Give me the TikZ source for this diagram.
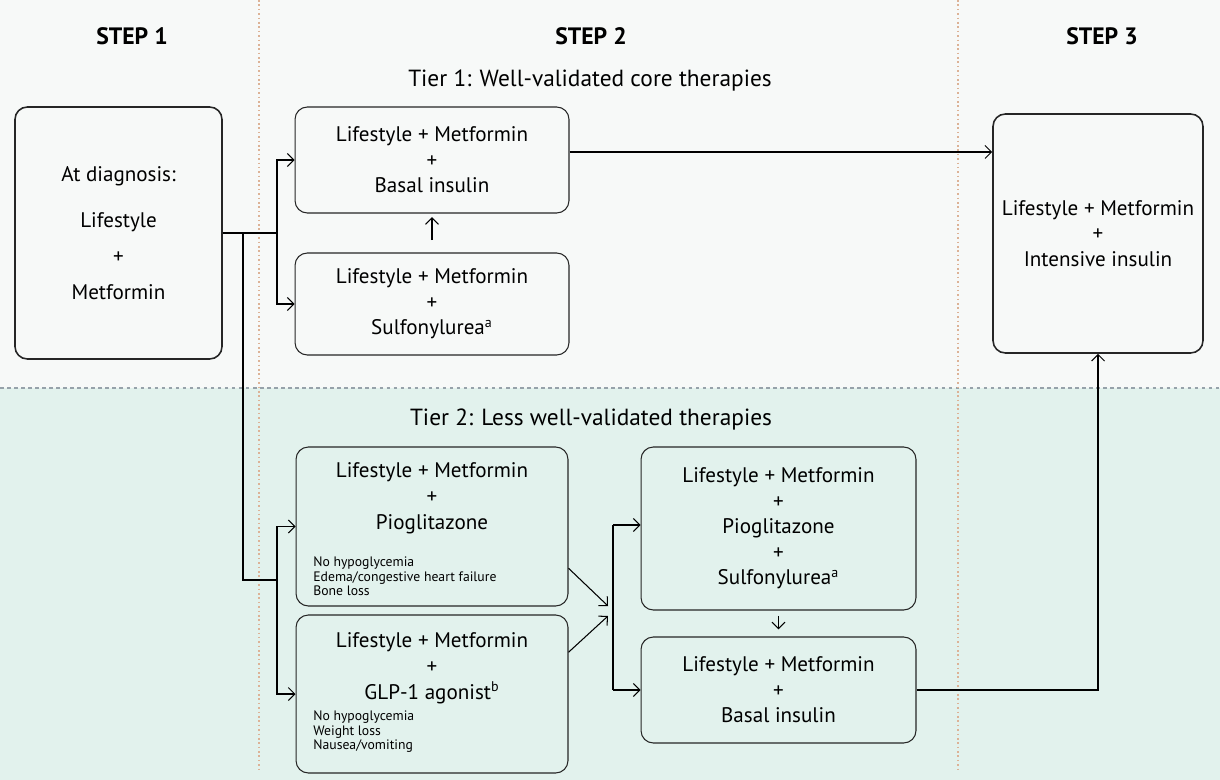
\documentclass[tikz,border=0pt]{standalone}
\usepackage{fontspec}
\setmainfont{PT Sans}
\usetikzlibrary{calc,positioning,arrows.meta}
\definecolor{tieronebg}{RGB}{247,249,248}
\definecolor{tiertwobg}{RGB}{226,242,237}
\definecolor{stepsep}{RGB}{220,178,150}
\definecolor{tiersep}{RGB}{150,162,170}

\begin{document}
\begin{tikzpicture}[x=0.02cm,y=-0.02cm,>={Straight Barb[length=1.3mm,width=2.6mm]},
  box/.style={draw=black!85,rounded corners=7pt,line width=0.6pt,align=center,inner sep=0pt,
    font=\fontsize{12}{14.5}\selectfont},
  bigbox/.style={box,line width=0.9pt},
  boxtext/.style={align=center,inner sep=0pt,font=\fontsize{12}{14.8}\selectfont},
  note/.style={align=left,inner sep=0pt,font=\fontsize{7.8}{8.5}\selectfont},
  steplabel/.style={anchor=base,font=\fontsize{13.5}{15}\selectfont\bfseries},
  tierlabel/.style={anchor=base,font=\fontsize{13.3}{15}\selectfont},
  link/.style={line width=0.6pt}]
\useasboundingbox (0,0) rectangle (1220,780);

% Draw tier backgrounds.
\fill[tieronebg] (0,0) rectangle (1220,388);
\fill[tiertwobg] (0,388) rectangle (1220,780);
\draw[tiersep,line width=0.6pt,dash pattern=on 2pt off 2pt] (0,388) -- (1220,388);

% Draw step separators.
\foreach \X in {259,958}
\draw[stepsep,line width=0.9pt,dash pattern=on 0.9pt off 1.6pt] (\X,0) -- (\X,772);

% Draw step and tier headings.
\node[steplabel] (stepone) at (132,45) {STEP 1};
\node[steplabel] (steptwo) at (591,45) {STEP 2};
\node[steplabel] (stepthree) at (1102,45) {STEP 3};
\node[tierlabel] (tierone) at (590,87) {Tier 1: Well-validated core therapies};
\node[tierlabel] (tiertwo) at (591,425) {Tier 2: Less well-validated therapies};

% Draw step 1 and tier 1 boxes.
\node[bigbox,minimum width=4.14cm,minimum height=5.04cm] (diag) at (118.5,233)
  {At diagnosis:\\[12pt]Lifestyle\\[6pt]+\\[6pt]Metformin};
\node[box,minimum width=5.48cm,minimum height=2.12cm] (basal) at (432,160)
  {Lifestyle + Metformin\\+\\Basal insulin};
\node[box,minimum width=5.48cm,minimum height=2.04cm] (sulfo) at (432,304)
  {Lifestyle + Metformin\\+\\Sulfonylurea\textsuperscript{a}};
\node[bigbox,minimum width=4.2cm,minimum height=4.78cm] (intens) at (1098,233.5)
  {Lifestyle + Metformin\\+\\Intensive insulin};

% Draw tier 2 boxes.
\node[box,minimum width=5.44cm,minimum height=3.18cm] (pio) at (432,526.5) {};
\node[boxtext,anchor=north] (piotext) at (432,462)
  {Lifestyle + Metformin\\+\\Pioglitazone};
\node[note,anchor=north west] (pionote) at (313,556)
  {No hypoglycemia\\Edema/congestive heart failure\\Bone loss};
\node[box,minimum width=5.44cm,minimum height=3.16cm] (glp) at (432,694) {};
\node[boxtext,anchor=north] (glptext) at (432,632)
  {Lifestyle + Metformin\\+\\GLP-1 agonist\textsuperscript{b}};
\node[note,anchor=north west] (glpnote) at (313,710)
  {No hypoglycemia\\Weight loss\\Nausea/vomiting};
\node[box,minimum width=5.5cm,minimum height=3.26cm] (piosu) at (778.5,528.5)
  {Lifestyle + Metformin\\+\\Pioglitazone\\+\\Sulfonylurea\textsuperscript{a}};
\node[box,minimum width=5.5cm,minimum height=2.12cm] (basaltwo) at (778.5,690)
  {Lifestyle + Metformin\\+\\Basal insulin};

% Draw branch points.
\coordinate (split) at (277,233);
\coordinate (drop) at (243,233);
\coordinate (splittwo) at (277,580);
\coordinate (mtop) at (613,525);
\coordinate (mbot) at (613,690);
\coordinate (mhi) at (608,606);
\coordinate (mlo) at (608,616);

% Draw arrows.
\draw[link] (diag.east |- split) -- (split);
\draw[link,->] (split) |- (basal.west);
\draw[link,->] (split) |- (sulfo.west);
\draw[link] (drop) |- (splittwo);
\draw[link,->] (splittwo) |- (pio.west);
\draw[link,->] (splittwo) |- (glp.west);
\draw[link,->,shorten <=7pt,shorten >=2pt] (sulfo.north) -- (basal.south);
\draw[link,->] ([yshift=0.16cm]basal.east) -- ([yshift=0.16cm]basal.east -| intens.west);
\draw[link,->] (pio.-17) -- (mhi);
\draw[link,->] (glp.17) -- (mlo);
\draw[link] (mtop) -- (mbot);
\draw[link,->] (mtop) -- (mtop -| piosu.west);
\draw[link,->] (mbot) -- (mbot -| basaltwo.west);
\draw[link,->,shorten <=3pt,shorten >=4pt] (piosu.south) -- (basaltwo.north);
\draw[link,->] (basaltwo.east) -| (intens.south);
\end{tikzpicture}
\end{document}
